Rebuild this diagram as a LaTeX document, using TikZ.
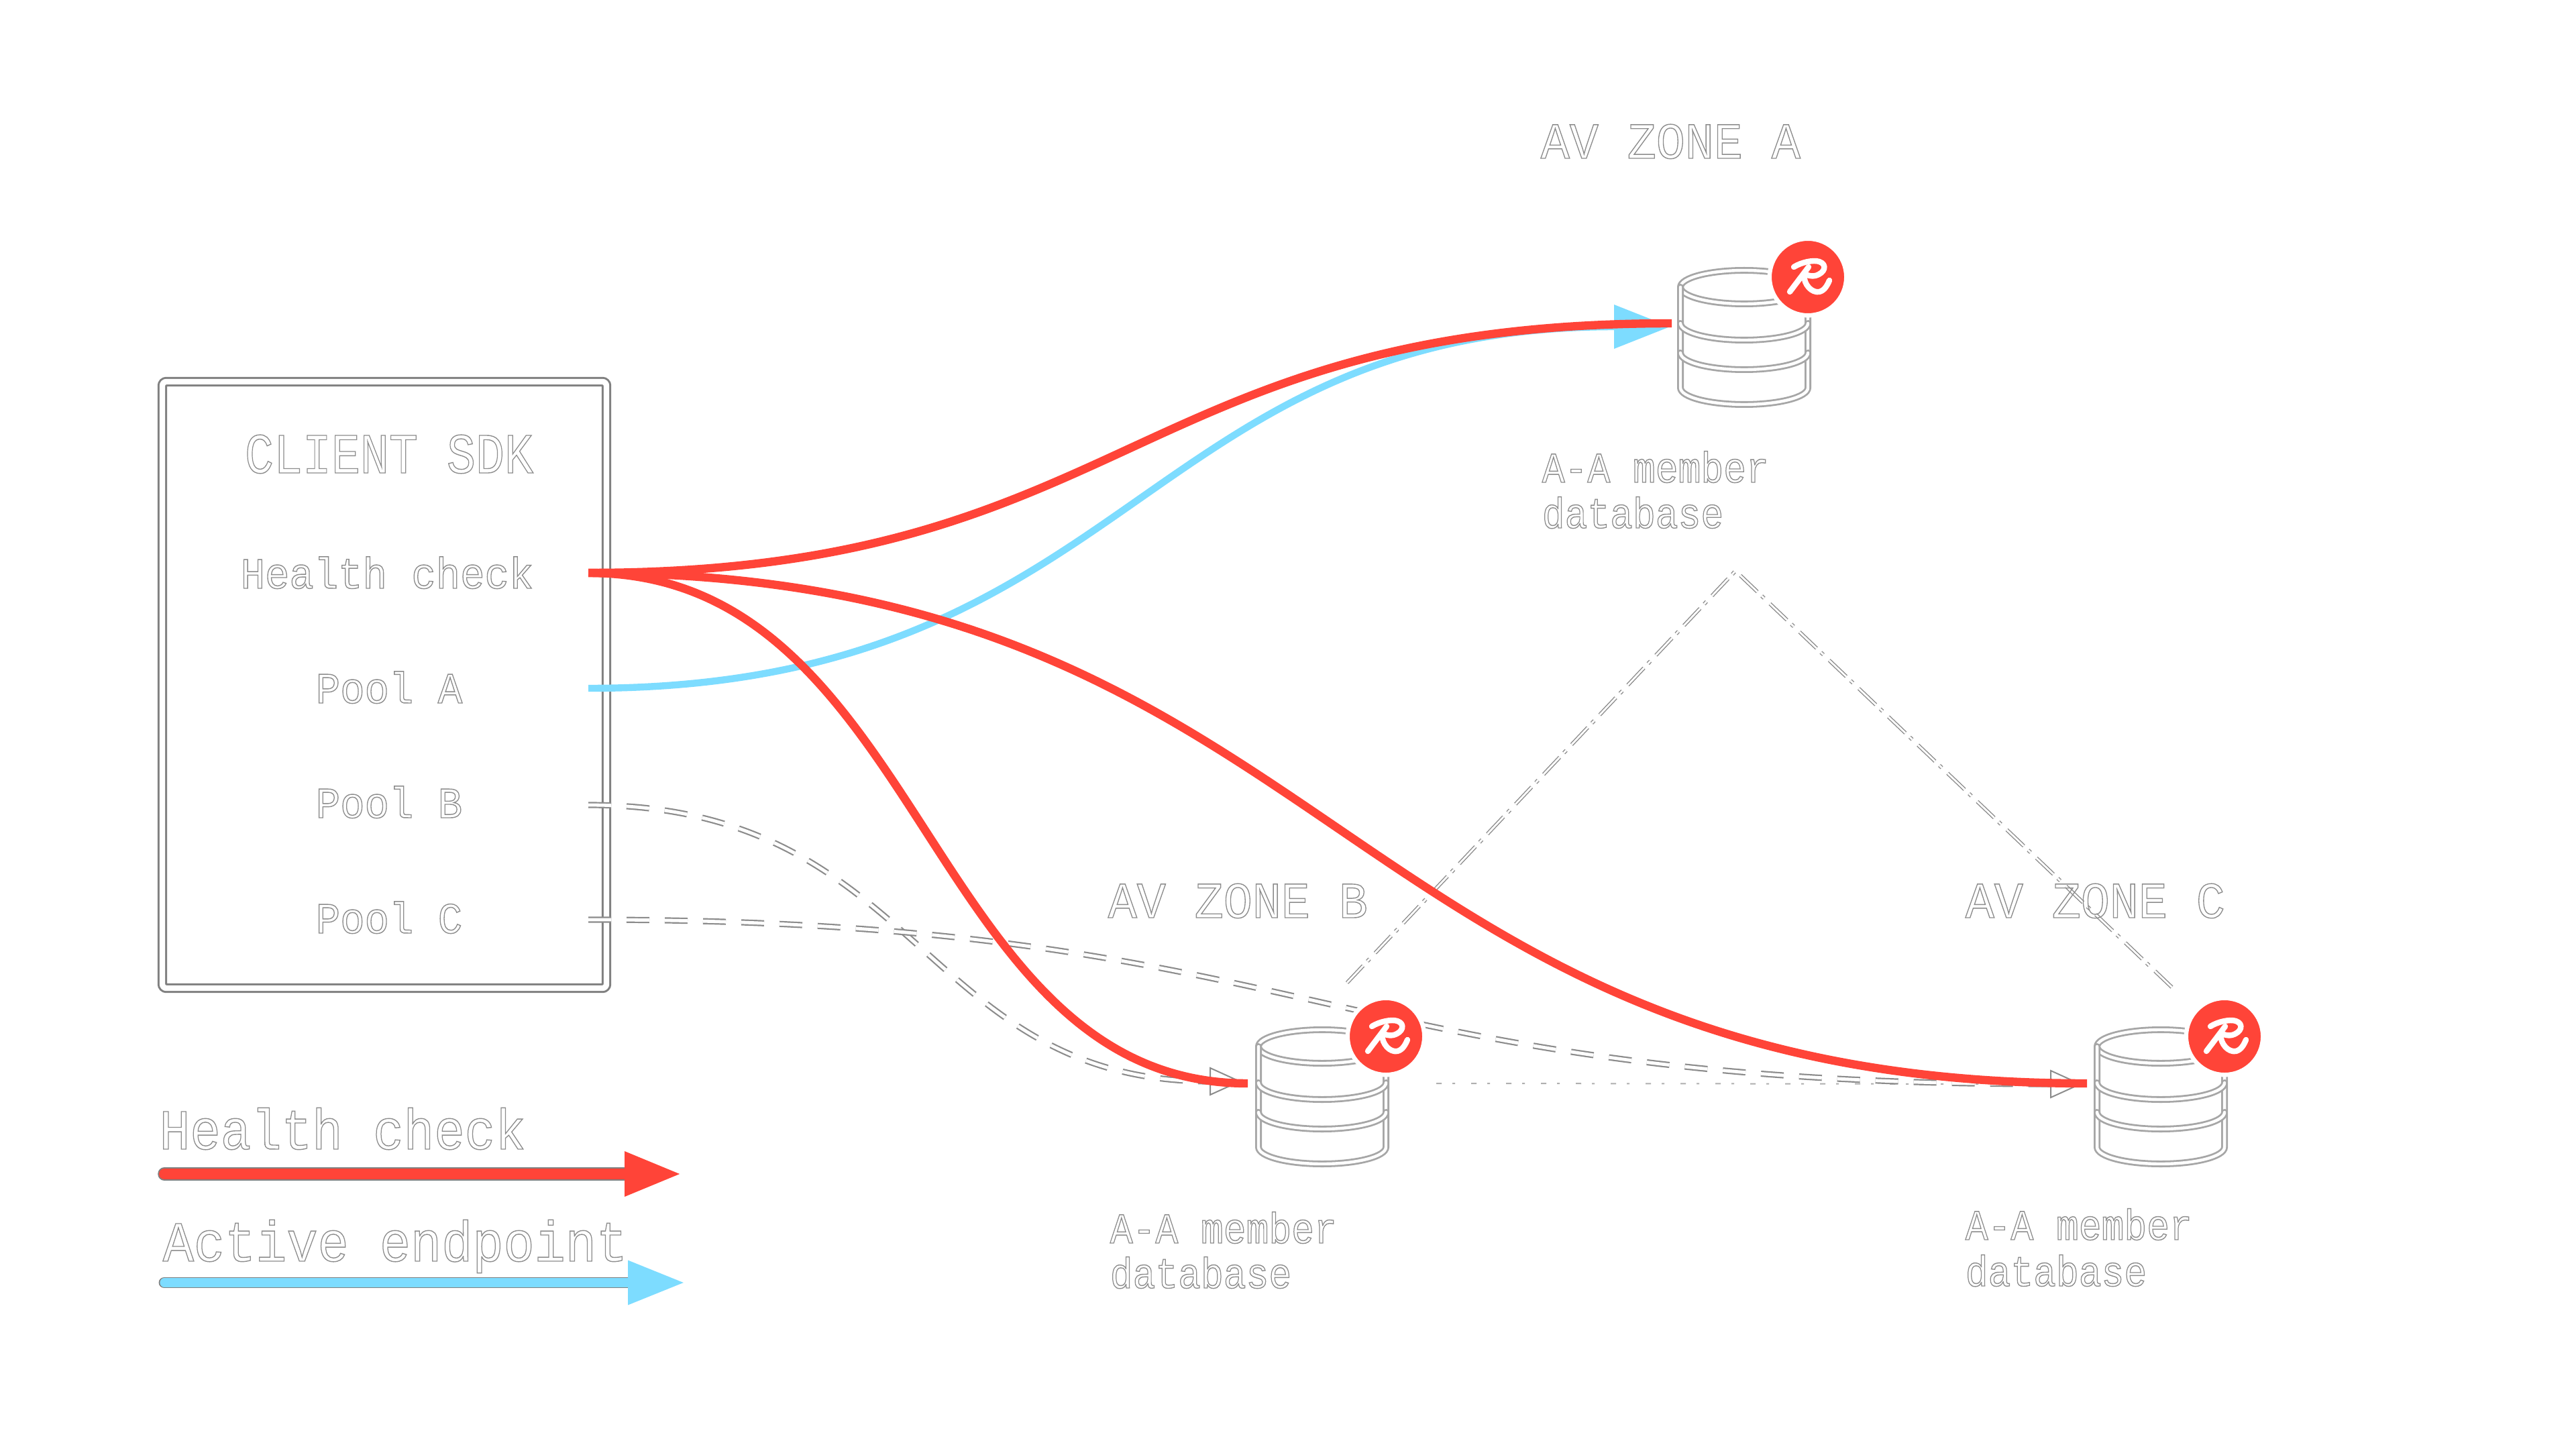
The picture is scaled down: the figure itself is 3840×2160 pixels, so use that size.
\documentclass[tikz,border=0pt]{standalone}
\usepackage{fontspec}
\usepackage{graphicx}
\setmainfont{Liberation Mono}
\usetikzlibrary{arrows.meta}
\definecolor{rred}{HTML}{FF4438}
\definecolor{rblue}{HTML}{7DDCFF}
\definecolor{txtgray}{HTML}{8C8C8C}
\definecolor{icongray}{HTML}{A6A6A6}
\definecolor{edgegray}{HTML}{808080}
\newcommand\hollowtxt[3]{\scalebox{#2}[1]{\fontsize{#1}{#1}\selectfont\special{pdf:code 1 Tr 0.35 w}#3\special{pdf:code 0 Tr}}}
\newcommand\titletxt[1]{\hollowtxt{21.25pt}{.843}{#1}}
\newcommand\zonetxt[1]{\hollowtxt{19pt}{.943}{#1}}
\newcommand\rowtxt[1]{\hollowtxt{16.25pt}{.933}{#1}}
\newcommand\legtxt[1]{\hollowtxt{21.25pt}{.892}{#1}}
\newcommand\activetxt[1]{\hollowtxt{21.25pt}{.905}{#1}}
\newcommand\labtxt[1]{\hollowtxt{16pt}{.88}{#1}}
\tikzset{
  lab/.style={anchor=base west,inner sep=0pt,text=txtgray},
  midlab/.style={anchor=base,inner sep=0pt,text=txtgray},
  sdkbox/.style={draw=edgegray,line width=.75pt,double=white,double distance=2.1pt,rounded corners=1.5pt,outer sep=0pt},
  dbline/.style={draw=icongray,line width=.7pt,double=white,double distance=1.1pt,line cap=round},
  redwire/.style={draw=rred,line width=3.1pt},
  bluewire/.style={draw=rblue,line width=2.6pt},
  poolwire/.style={draw=txtgray,line width=.55pt,double=white,double distance=1.2pt,dash pattern=on 8.5pt off 5.75pt},
  zonelink/.style={draw=txtgray,line width=.35pt,double=white,double distance=.7pt,dash pattern=on 8.75pt off 2.25pt on 1.25pt off 3pt},
  faintlink/.style={draw=txtgray!70,line width=.5pt,dash pattern=on 2pt off 4pt on 1pt off 6pt},
  badge/.style={circle,fill=rred,draw=white,line width=1.6pt,minimum size=28.6pt,inner sep=0pt},
  logo/.style={draw=white,line width=2.1pt,line cap=round,line join=round},
  openhead/.style={draw=txtgray,fill=white,line width=.5pt},
}
\newcommand\dbicon[3]{% name, centre x, top y
  \begin{scope}[shift={(#2,#3)}]
    \draw[dbline] (-95,30) .. controls (-95,16) and (-52,5) .. (0,5) .. controls (52,5) and (95,16) .. (95,30)
       .. controls (95,44) and (52,55) .. (0,55) .. controls (-52,55) and (-95,44) .. (-95,30);
    \draw[dbline] (-95,30) -- (-95,180) .. controls (-95,194) and (-52,205) .. (0,205) .. controls (52,205) and (95,194) .. (95,180) -- (95,73);
    \draw[dbline] (-95,84) .. controls (-95,98) and (-52,109) .. (0,109) .. controls (52,109) and (95,98) .. (95,84);
    \draw[dbline] (-95,128) .. controls (-95,142) and (-52,153) .. (0,153) .. controls (52,153) and (95,142) .. (95,128);
    \node[badge] (#1) at (95,15) {};
    \begin{scope}[shift={(95,15)}]
      \draw[logo] (-21,-15) .. controls (-10,-22) and (8,-26) .. (17,-23) .. controls (29,-19) and (26,-6) .. (11,-2) .. controls (6,-1) and (2,-2) .. (-1,-3);
      \draw[logo] (1,-15) -- (-27,22);
      \draw[logo] (-6,-4) .. controls (-6,12) and (6,24) .. (17,22) .. controls (25,20) and (29,12) .. (32,5);
    \end{scope}
  \end{scope}
}
\begin{document}
\begin{tikzpicture}[x=.25pt,y=-.25pt]
\useasboundingbox (0,0) rectangle (3840,2160);
\fill[white] (0,0) rectangle (3840,2160);

% client box
\node[sdkbox,anchor=north west,minimum width=165.5pt,minimum height=226pt,inner sep=0pt] (sdk) at (242,569) {};
\node[midlab] (ttl) at (580,705) {\titletxt{CLIENT SDK}};
\node[midlab] (hc) at (577,877) {\rowtxt{Health check}};
\node[midlab] (pa) at (580,1048) {\rowtxt{Pool A}};
\node[midlab] (pb) at (580,1219) {\rowtxt{Pool B}};
\node[midlab] (pc) at (580,1391) {\rowtxt{Pool C}};
\coordinate (hcout) at (877,854);
\coordinate (paout) at (877,1026);
\coordinate (pbout) at (877,1200);
\coordinate (pcout) at (877,1371);

% ports
\coordinate (aRed) at (2492,482);
\coordinate (aBlue) at (2490,487);
\coordinate (bRed) at (1860,1615);
\coordinate (cRed) at (3111,1615);
\coordinate (bHead) at (1804,1612);
\coordinate (cHead) at (3057,1616);
\coordinate (apex) at (2587,851);
\coordinate (bZone) at (2008,1465);
\coordinate (cZone) at (3240,1474);
\coordinate (bSide) at (2141,1615);

% zone links
\draw[zonelink] (bZone) -- (apex) -- (cZone);
\draw[faintlink] (bSide) -- (cHead);

% inactive pools
\draw[poolwire] (pbout) .. controls (1373,1200) and (1373,1612) .. (bHead);
\draw[poolwire] (pcout) .. controls (1967,1371) and (1967,1616) .. (cHead);
\draw[openhead] (1804,1592) -- (1848,1612) -- (1804,1632) -- cycle;
\draw[openhead] (3057,1596) -- (3101,1616) -- (3057,1636) -- cycle;

% databases
\dbicon{dbA}{2600}{398}
\dbicon{dbB}{1971}{1530}
\dbicon{dbC}{3221}{1530}

% active and health wires
\draw[bluewire,-{Triangle[length=21pt,width=15.75pt]}] (paout) .. controls (1685,1026) and (1700,487) .. (aBlue);
\draw[redwire] (hcout) .. controls (1685,854) and (1685,482) .. (aRed);
\draw[redwire] (hcout) .. controls (1380,854) and (1380,1615) .. (bRed);
\draw[redwire] (hcout) .. controls (1994,854) and (1994,1615) .. (cRed);

% zone titles and labels
\node[lab] (za) at (2296,236) {\zonetxt{AV ZONE A}};
\node[lab] (zb) at (1651,1368) {\zonetxt{AV ZONE B}};
\node[lab] (zc) at (2929,1368) {\zonetxt{AV ZONE C}};
\node[lab] (la1) at (2298,719) {\labtxt{A-A member}};
\node[lab] (la2) at (2298,787) {\labtxt{database}};
\node[lab] (lb1) at (1654,1853) {\labtxt{A-A member}};
\node[lab] (lb2) at (1654,1920) {\labtxt{database}};
\node[lab] (lc1) at (2929,1848) {\labtxt{A-A member}};
\node[lab] (lc2) at (2929,1917) {\labtxt{database}};

% legend
\coordinate (lgA) at (245,1750);
\coordinate (lgB) at (1015,1750);
\coordinate (lgC) at (245,1912);
\coordinate (lgD) at (1020,1912);
\draw[draw=edgegray,line width=4.9pt,line cap=round] (lgA) -- (940,1750);
\draw[draw=rred,line width=4pt,line cap=round,-{Triangle[length=21pt,width=15.75pt]}] (lgA) -- (lgB);
\draw[draw=edgegray,line width=4.2pt,line cap=round] (lgC) -- (940,1912);
\draw[draw=rblue,line width=3.3pt,line cap=round,-{Triangle[length=21pt,width=15.75pt]}] (lgC) -- (lgD);
\node[lab] (lg1) at (237,1713) {\legtxt{Health check}};
\node[lab] (lg2) at (242,1880) {\activetxt{Active endpoint}};
\end{tikzpicture}
\end{document}
